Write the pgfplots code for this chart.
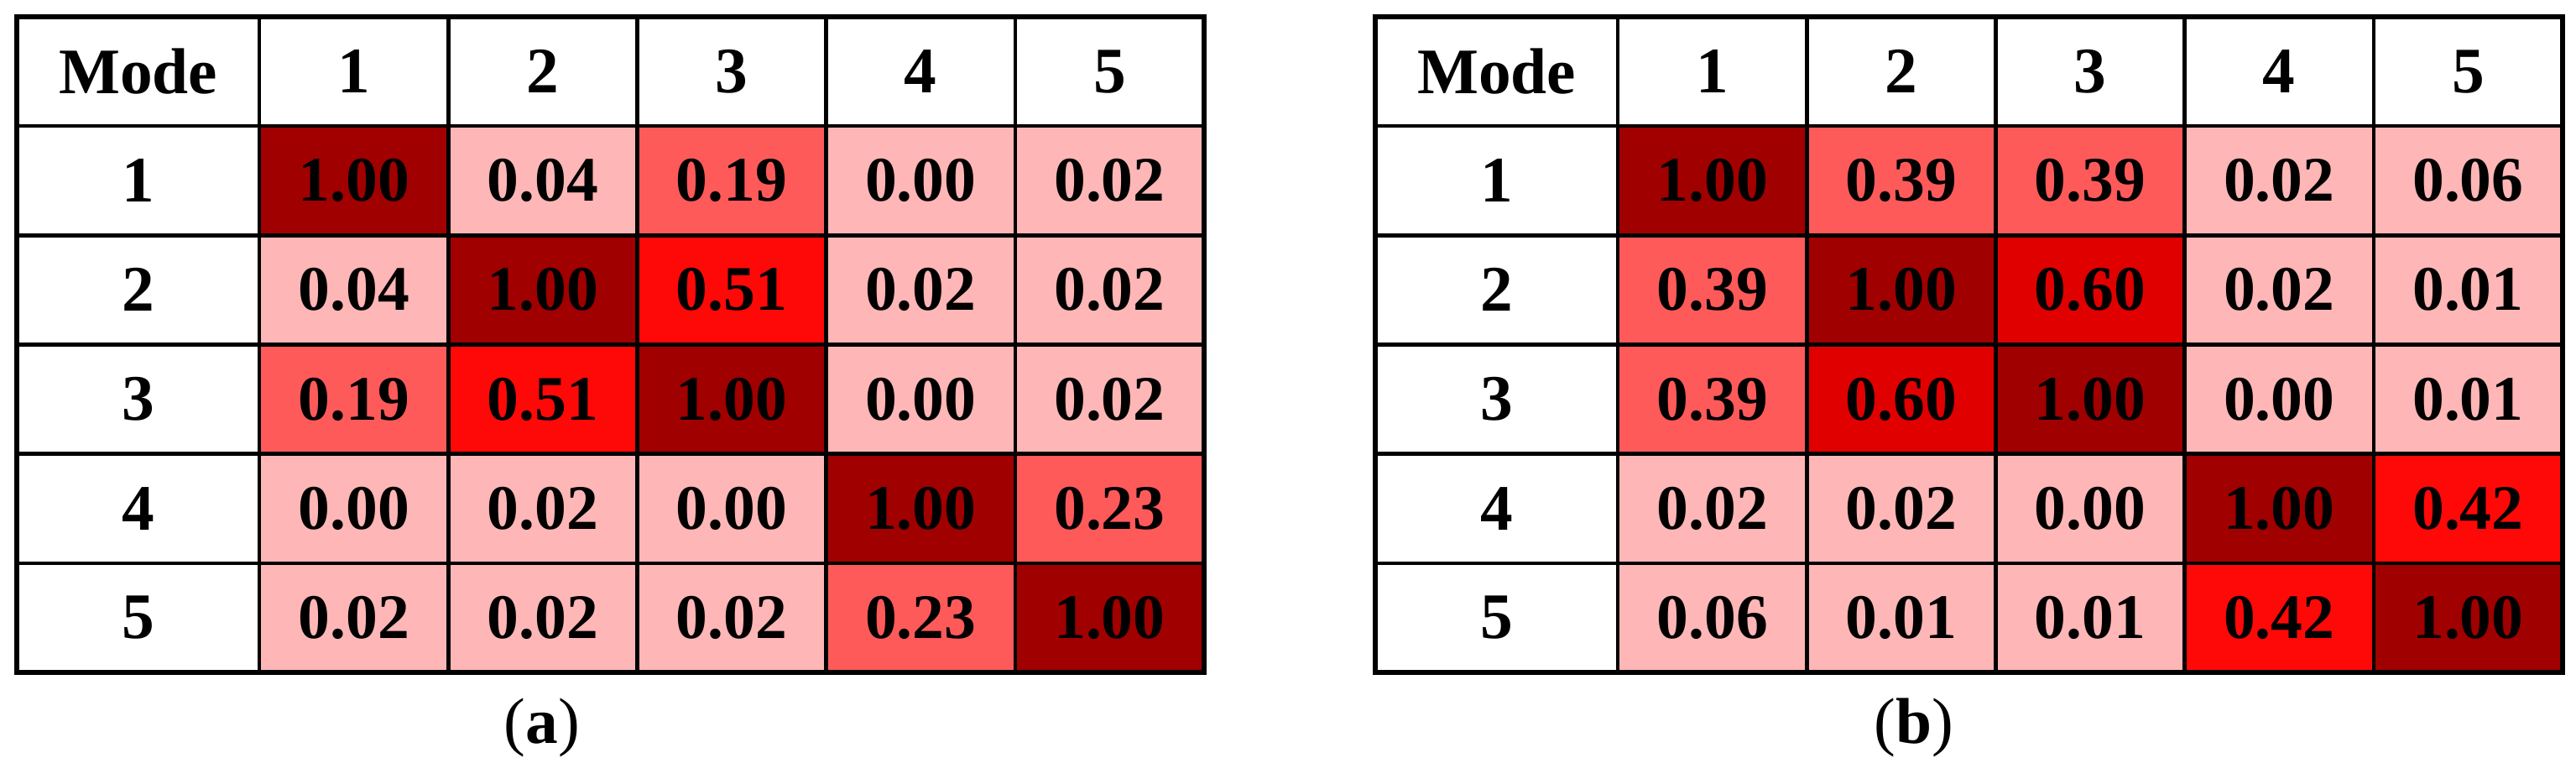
\documentclass[border=0pt]{standalone}
\usepackage{pgfplots}
\usepackage{pgfplotstable}
\pgfplotsset{compat=1.18}
\usepackage{fontspec}
\setmainfont{Liberation Serif}

% MAC matrices: x = column, y = row, c = colour class, v = printed value
\pgfplotstableread{
x y c v
1 1 4 1.00
2 1 0 0.04
3 1 1 0.19
4 1 0 0.00
5 1 0 0.02
1 2 0 0.04
2 2 4 1.00
3 2 2 0.51
4 2 0 0.02
5 2 0 0.02
1 3 1 0.19
2 3 2 0.51
3 3 4 1.00
4 3 0 0.00
5 3 0 0.02
1 4 0 0.00
2 4 0 0.02
3 4 0 0.00
4 4 4 1.00
5 4 1 0.23
1 5 0 0.02
2 5 0 0.02
3 5 0 0.02
4 5 1 0.23
5 5 4 1.00
}\maca

\pgfplotstableread{
x y c v
1 1 4 1.00
2 1 1 0.39
3 1 1 0.39
4 1 0 0.02
5 1 0 0.06
1 2 1 0.39
2 2 4 1.00
3 2 3 0.60
4 2 0 0.02
5 2 0 0.01
1 3 1 0.39
2 3 3 0.60
3 3 4 1.00
4 3 0 0.00
5 3 0 0.01
1 4 0 0.02
2 4 0 0.02
3 4 0 0.00
4 4 4 1.00
5 4 2 0.42
1 5 0 0.06
2 5 0 0.01
3 5 0 0.01
4 5 2 0.42
5 5 4 1.00
}\macb

\newcommand{\tabfont}{\fontsize{22}{26}\selectfont\bfseries}

\pgfplotsset{
  mactable/.style={
    scale only axis, width=14.15cm, height=7.81cm,
    anchor=north west,
    xmin=-0.7844, xmax=5.5, ymin=-0.5, ymax=5.5, y dir=reverse,
    xtick={0.5,1.5,2.5,3.5,4.5}, ytick={0.5,1.5,2.5,3.5,4.5},
    xticklabels={}, yticklabels={}, major tick length=0pt,
    grid=major, grid style={black, line width=1.3pt},
    axis line style={black, line width=1.6pt},
    axis on top, clip=false,
    colormap={mac}{rgb255=(255,182,182) rgb255=(255,90,90) rgb255=(255,8,8) rgb255=(224,0,0) rgb255=(160,0,0)},
    colormap access=direct,
  },
  cellvals/.style={
    only marks, mark=none, point meta=explicit symbolic,
    nodes near coords, nodes near coords align=center,
    every node near coord/.append style={font=\fontsize{21.5}{26}\selectfont\bfseries, text=black, anchor=center},
  },
}

% header row and Mode column
\newcommand{\headers}{%
  \node[font=\tabfont] at (axis cs:-0.1422,0) {Mode};
  \node[font=\tabfont] at (axis cs:1,0) {1};
  \node[font=\tabfont] at (axis cs:2,0) {2};
  \node[font=\tabfont] at (axis cs:3,0) {3};
  \node[font=\tabfont] at (axis cs:4,0) {4};
  \node[font=\tabfont] at (axis cs:5,0) {5};
  \node[font=\tabfont] at (axis cs:-0.1422,1) {1};
  \node[font=\tabfont] at (axis cs:-0.1422,2) {2};
  \node[font=\tabfont] at (axis cs:-0.1422,3) {3};
  \node[font=\tabfont] at (axis cs:-0.1422,4) {4};
  \node[font=\tabfont] at (axis cs:-0.1422,5) {5};
}

\begin{document}
\begin{tikzpicture}
\path[use as bounding box] (0,0) rectangle (30.7cm,9.22cm);

\begin{axis}[mactable, at={(0.2cm,9.02cm)}]
  \addplot[matrix plot*, mesh/cols=5, point meta=explicit] table[x=x, y=y, meta=c] {\maca};
  \addplot[cellvals] table[x=x, y=y, meta=v] {\maca};
  \headers
\end{axis}

\begin{axis}[mactable, at={(16.39cm,9.02cm)}]
  \addplot[matrix plot*, mesh/cols=5, point meta=explicit] table[x=x, y=y, meta=c] {\macb};
  \addplot[cellvals] table[x=x, y=y, meta=v] {\macb};
  \headers
\end{axis}

\node[font=\fontsize{22}{26}\selectfont] at (6.46cm,0.55cm) {(\textbf{a})};
\node[font=\fontsize{22}{26}\selectfont] at (22.81cm,0.55cm) {(\textbf{b})};
\end{tikzpicture}
\end{document}
